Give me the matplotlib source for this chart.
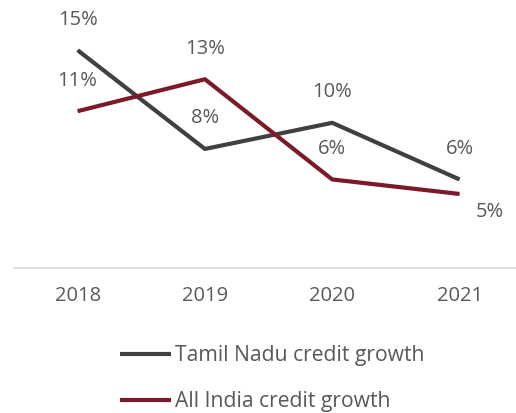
import matplotlib.pyplot as plt

plt.rcParams['font.family'] = ['Open Sans', 'DejaVu Sans']

years = ["2018", "2019", "2020", "2021"]
tamil_nadu = [15.0, 8.2, 10.0, 6.1]
all_india = [10.8, 13.0, 6.1, 5.1]
tn_labels = ["15%", "8%", "10%", "6%"]
india_labels = ["11%", "13%", "6%", "5%"]

text_color = "#595959"
tn_color = "#404040"
india_color = "#7b1a28"

fig = plt.figure(figsize=(5.16, 4.13), dpi=100)
ax = fig.add_axes([0.027, 0.351, 0.987, 0.633])

x = range(len(years))
ax.plot(x, tamil_nadu, color=tn_color, lw=3, label="Tamil Nadu credit growth",
        solid_capstyle="butt")
ax.plot(x, all_india, color=india_color, lw=3, label="All India credit growth",
        solid_capstyle="butt")

# data labels
for i, (v, s) in enumerate(zip(tamil_nadu, tn_labels)):
    ax.annotate(s, (i, v), xytext=(0, 22), textcoords="offset points",
                ha="center", va="center", fontsize=14.5, color=text_color)
for i, (v, s) in enumerate(zip(all_india, india_labels)):
    off = (0, 22) if i < 3 else (22, -13)
    ax.annotate(s, (i, v), xytext=off, textcoords="offset points",
                ha="center", va="center", fontsize=14.5, color=text_color)

ax.set_xlim(-0.5, 3.5)
ax.set_ylim(0, 18)
ax.set_xticks(list(x))
ax.set_xticklabels(years)
ax.set_yticks([])
ax.tick_params(axis="x", length=0, pad=13, labelsize=14.5, labelcolor=text_color)
for side in ["top", "right", "left"]:
    ax.spines[side].set_visible(False)
ax.spines["bottom"].set_color("#d9d9d9")
ax.spines["bottom"].set_linewidth(1.2)

fig.legend(loc="upper left", bbox_to_anchor=(120 / 516, 1 - 345 / 413),
           frameon=False, fontsize=15.2, labelcolor=text_color,
           handlelength=2.4, handletextpad=0.2, labelspacing=1.2,
           borderpad=0, borderaxespad=0)

fig.savefig("out.png", dpi=100)
